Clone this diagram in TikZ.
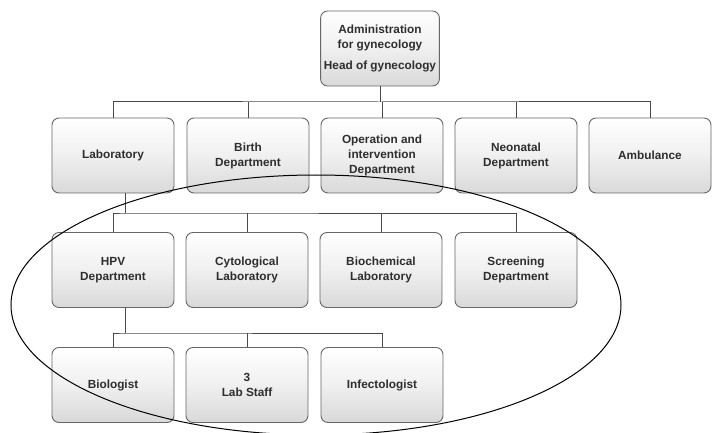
\documentclass[tikz,border=0pt]{standalone}
\usepackage{fontspec}
\setmainfont{Liberation Sans}
\usepackage{tikz}
\definecolor{boxline}{HTML}{666666}
\definecolor{boxtext}{HTML}{2E2E2E}
\definecolor{linkline}{HTML}{4A4A4A}
\tikzset{
    unit/.style={
        draw=boxline, line width=0.9pt, rounded corners=7pt,
        top color=white, bottom color=black!15, middle color=white!94!black,
        minimum width=#1, minimum height=75pt, align=center,
        text=boxtext, font=\bfseries\fontsize{11.8}{15}\selectfont
    },
    unit/.default=122pt,
    link/.style={draw=linkline, line width=1pt}
}
\newcommand{\drop}[2] {
	\draw[link] (#1.north) -- (#1.north |- #2);
}

\begin{document}
\begin{tikzpicture}[x=1pt,y=-1pt]
		\useasboundingbox (0,0) rectangle (718,433);

		% head
		\node[unit=118pt] (admin) at (380,48.5) {Administration\\for gynecology\\[6pt]Head of gynecology};

		% first level
		\node[unit] (lab) at (113,155.5) {Laboratory};
		\node[unit] (birth) at (248,155.5) {Birth\\Department};
		\node[unit] (oper) at (382,155.5) {Operation and\\intervention\\Department};
		\node[unit] (neo) at (516,155.5) {Neonatal\\Department};
		\node[unit] (amb) at (650,155.5) {Ambulance};

		\coordinate (bus1) at (380,102);
		\draw[link] (admin.south) -- (bus1);
		\draw[link] (lab.north) |- (bus1) -| (amb.north);
		\drop{birth}{bus1}
		\drop{oper}{bus1}
		\drop{neo}{bus1}

		% laboratory units
		\node[unit] (hpv) at (113,270) {HPV\\Department};
		\node[unit] (cyto) at (247,270) {Cytological\\Laboratory};
		\node[unit] (bio) at (381,270) {Biochemical\\Laboratory};
		\node[unit] (scr) at (516,270) {Screening\\Department};

		\coordinate (bus2) at (125,213);
		\draw[link] (lab.south -| bus2) -- (bus2);
		\draw[link] (hpv.north) |- (bus2) -| (scr.north);
		\drop{cyto}{bus2}
		\drop{bio}{bus2}

		% HPV staff
		\node[unit] (biol) at (113,385) {Biologist};
		\node[unit] (staff) at (247,385) {3\\Lab Staff};
		\node[unit] (infect) at (382,385) {Infectologist};

		\coordinate (bus3) at (125,333);
		\draw[link] (hpv.south -| bus3) -- (bus3);
		\draw[link] (biol.north) |- (bus3) -| (infect.north);
		\drop{staff}{bus3}

		% laboratory scope
		\draw[black, line width=1pt] (316,305) ellipse [x radius=305pt, y radius=130pt];
	\end{tikzpicture}
\end{document}
